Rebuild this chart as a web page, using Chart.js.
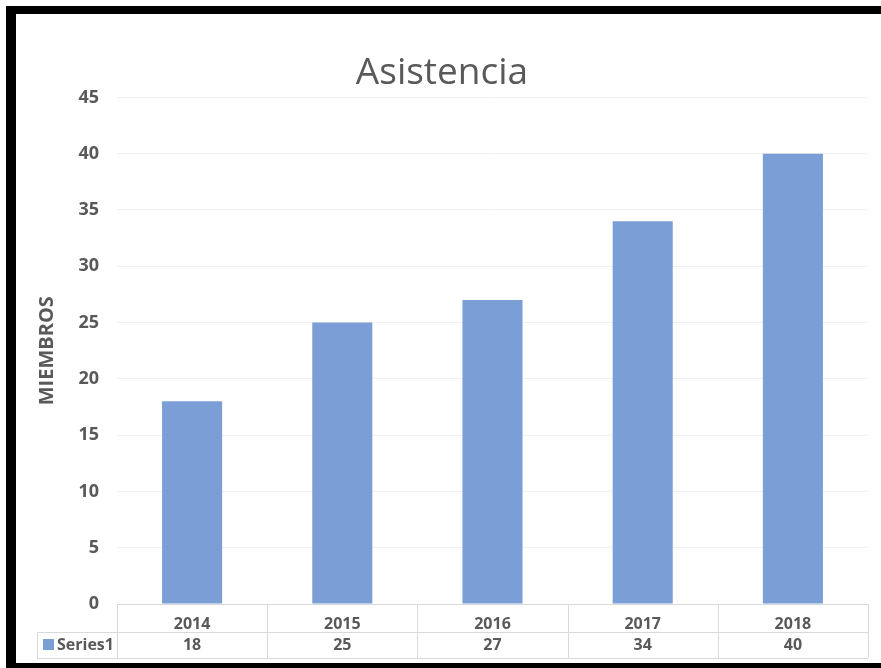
<!DOCTYPE html>
<html>
<head>
<meta charset="utf-8">
<script src="https://cdn.jsdelivr.net/npm/chart.js@4"></script>
<style>
  html, body { margin: 0; padding: 0; background: #fff; }
  #wrap { width: 881px; height: 668px; }
</style>
</head>
<body>
<div id="wrap"><canvas id="asistenciaChart" width="881" height="668"></canvas></div>
<script>
const years = ['2014', '2015', '2016', '2017', '2018'];
const series1 = [18, 25, 27, 34, 40];
const seriesName = 'Series1';

const textColor = '#595959';
const lineColor = '#d9d9d9';
const barColor = '#7b9ed6';
const fontFamily = "'Open Sans', 'Noto Sans', sans-serif";

// white background + black frame round the picture
const framePlugin = {
    id: 'frame',
    beforeDraw(chart) {
        const c = chart.ctx;
        c.save();
        c.fillStyle = '#fff';
        c.fillRect(0, 0, chart.width, chart.height);
        c.restore();
    },
    afterDraw(chart) {
        const c = chart.ctx;
        c.save();
        c.fillStyle = '#000';
        c.fillRect(7, 6, chart.width - 7, 8);   // top
        c.fillRect(6, 6, 10, chart.height - 6); // left
        c.fillRect(6, chart.height - 5, chart.width - 6, 5); // bottom
        c.restore();
    }
};

// data table under the x axis (years row + Series1 row)
const dataTablePlugin = {
    id: 'dataTable',
    afterDraw(chart) {
        const c = chart.ctx;
        const x = chart.scales.x;
        const area = chart.chartArea;
        const half = (x.getPixelForValue(1) - x.getPixelForValue(0)) / 2;
        const rowTop = area.bottom;
        const rowMid = x.bottom;
        const rowBot = rowMid + 26;
        const tableLeft = 37;

        c.save();
        c.strokeStyle = lineColor;
        c.lineWidth = 1;
        c.beginPath();
        // horizontal lines
        c.moveTo(area.left, rowTop + 0.5); c.lineTo(area.right, rowTop + 0.5);
        c.moveTo(tableLeft, rowMid + 0.5); c.lineTo(area.right, rowMid + 0.5);
        c.moveTo(tableLeft, rowBot + 0.5); c.lineTo(area.right, rowBot + 0.5);
        // vertical lines
        c.moveTo(tableLeft + 0.5, rowMid); c.lineTo(tableLeft + 0.5, rowBot);
        for (let i = 0; i <= years.length; i++) {
            const px = Math.round(x.getPixelForValue(i) - half) + 0.5;
            c.moveTo(px, rowTop); c.lineTo(px, rowBot);
        }
        c.stroke();

        // legend key + series name
        const midY = (rowMid + rowBot) / 2;
        c.fillStyle = barColor;
        c.fillRect(tableLeft + 6, midY - 6, 11, 11);
        c.fillStyle = textColor;
        c.font = 'bold 16px ' + fontFamily;
        c.textBaseline = 'middle';
        c.textAlign = 'left';
        c.fillText(seriesName, tableLeft + 20, midY);

        // values
        c.textAlign = 'center';
        series1.forEach((v, i) => {
            c.fillText(String(v), x.getPixelForValue(i), midY);
        });
        c.restore();
    }
};

const ctx = document.getElementById('asistenciaChart').getContext('2d');

const chartConfig = {
    type: 'bar',
    data: {
        labels: years,
        datasets: [
            {
                label: seriesName,
                data: series1,
                backgroundColor: barColor,
                borderWidth: 0,
                categoryPercentage: 1,
                barPercentage: 0.4
            }
        ]
    },
    options: {
        responsive: false,
        animation: false,
        layout: {
            padding: { top: 14, left: 16, right: 13, bottom: 36 }
        },
        scales: {
            x: {
                grid: { display: false },
                border: { display: false },
                ticks: {
                    color: textColor,
                    font: { family: fontFamily, size: 16, weight: 'bold' },
                    padding: 3,
                    maxRotation: 0
                },
                afterFit(scale) { scale.height = 28; }
            },
            y: {
                min: 0,
                max: 45,
                ticks: {
                    stepSize: 5,
                    color: textColor,
                    font: { family: fontFamily, size: 18, weight: 'bold' },
                    padding: 18
                },
                grid: { color: '#f0f0f0', drawTicks: false },
                border: { display: false },
                title: {
                    display: true,
                    text: 'MIEMBROS',
                    color: textColor,
                    font: { family: fontFamily, size: 20, weight: 'bold' },
                    padding: { top: 19, bottom: 0 }
                },
                afterFit(scale) { scale.width = 101; }
            }
        },
        plugins: {
            legend: { display: false },
            tooltip: { enabled: false },
            title: {
                display: true,
                text: 'Asistencia',
                color: textColor,
                font: { family: fontFamily, size: 37, weight: 'normal' },
                padding: { top: 37, bottom: 2 }
            }
        }
    },
    plugins: [framePlugin, dataTablePlugin]
};

const asistenciaChart = new Chart(ctx, chartConfig);
</script>
</body>
</html>
